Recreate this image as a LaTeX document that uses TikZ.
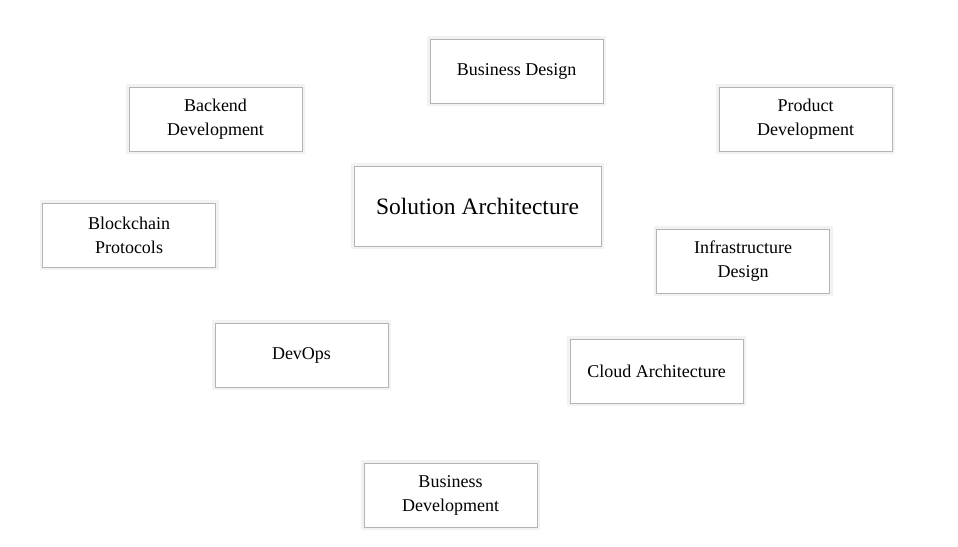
\documentclass[tikz,border=0pt]{standalone}
\usepackage{fontspec}
\setmainfont{Liberation Serif}
\definecolor{BoxEdge}{HTML}{B4B4B4}

\begin{document}
\begin{tikzpicture}[x=1pt,y=-1pt,
  topic/.style={draw=BoxEdge,line width=0.9pt,fill=white,
    preaction={draw=black!5,line width=6pt},
    minimum width=173pt,minimum height=64pt,align=center,
    font=\fontsize{18}{24}\selectfont},
  hub/.style={topic,minimum width=247pt,minimum height=80pt,
    font=\fontsize{23.5}{26}\selectfont}]
  \useasboundingbox[fill=white] (0,0) rectangle (958,546);
  \node[hub] (solution) at (477.5,206) {Solution Architecture};
  \node[topic] (bizdesign) at (516.5,71) {Business Design};
  \node[topic] (backend) at (215.5,119) {Backend\\Development};
  \node[topic] (product) at (805.5,119) {Product\\Development};
  \node[topic] (blockchain) at (129,235) {Blockchain\\Protocols};
  \node[topic] (infra) at (743,261) {Infrastructure\\Design};
  \node[topic] (devops) at (301.5,355) {DevOps};
  \node[topic] (cloud) at (656.5,371) {Cloud Architecture};
  \node[topic] (bizdev) at (450.5,495) {Business\\Development};
\end{tikzpicture}
\end{document}
